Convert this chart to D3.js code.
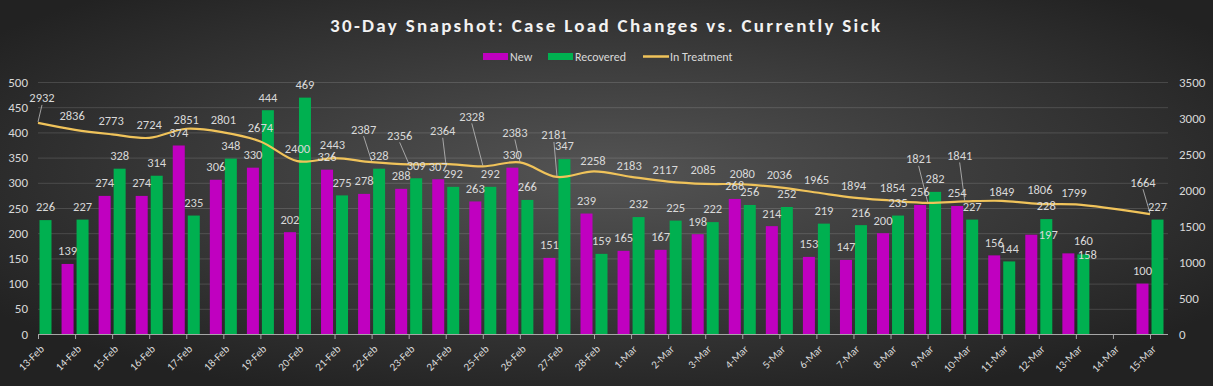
<!DOCTYPE html>
<html>
<head>
<meta charset="utf-8">
<script src="https://cdn.jsdelivr.net/npm/d3@7"></script>
<style>
  html, body { margin: 0; padding: 0; background: #2a2a2a; }
  svg { display: block; }
  text { font-family: Carlito, "Liberation Sans Narrow", "DejaVu Sans Condensed", "Liberation Sans", sans-serif; }
</style>
</head>
<body>
<svg id="chart" width="1213" height="386"></svg>
<script>
// ---------------- data ----------------
const categories = ["13-Feb","14-Feb","15-Feb","16-Feb","17-Feb","18-Feb","19-Feb","20-Feb","21-Feb","22-Feb","23-Feb","24-Feb","25-Feb","26-Feb","27-Feb","28-Feb",
  "1-Mar","2-Mar","3-Mar","4-Mar","5-Mar","6-Mar","7-Mar","8-Mar","9-Mar","10-Mar","11-Mar","12-Mar","13-Mar","14-Mar","15-Mar"];
const newCases = [null,139,274,274,374,306,330,202,326,278,288,307,263,330,151,239,
  165,167,198,268,214,153,147,200,256,254,156,197,160,null,100];
const recovered = [226,227,328,314,235,348,444,469,275,328,309,292,292,266,347,159,
  232,225,222,256,252,219,216,235,282,227,144,228,158,null,227];
const inTreatment = [2932,2836,2773,2724,2851,2801,2674,2400,2443,2387,2356,2364,2328,2383,2181,2258,
  2183,2117,2085,2080,2036,1965,1894,1854,1821,1841,1849,1806,1799,null,1664];
const leftTicks = [0,50,100,150,200,250,300,350,400,450,500];
const rightTicks = [0,500,1000,1500,2000,2500,3000,3500];
const seriesNames = ["New","Recovered","In Treatment"];

// ---------------- layout (label placement, px) ----------------
const lineLabelShift = [[4,-25],[-3,-14],[-1,-14],[0,-13],[0,-9],[0,-13],[0,-14],[0,-13],[-2,-13],[-8,-33],[-9,-29],[-3,-33],[-11,-50],[-5,-30],[-3,-42],[-1,-11],
  [-2,-11],[-3,-12],[-2,-14],[0,-11],[0,-13],[0,-13],[0,-12],[2,-13],[-9,-44],[-5,-46],[0,-9],[1,-14],[-2,-12],null,[-7,-32]];
const barLabelShift = { "new-27":[17,0], "new-28":[15,-13], "rec-28":[4,0] };

const W = 1213, H = 386;
const plot = { left: 38, right: 1168, top: 82, bottom: 334 };
const colors = { new: "#c000c0", rec: "#00b050", line: "#f0c35a", text: "#d9d9d9" };
const labelSize = 12.5;

const svg = d3.select("#chart");
const defs = svg.append("defs");
const grad = defs.append("radialGradient").attr("id","bg")
  .attr("cx","50%").attr("cy","45%").attr("r","62%");
grad.append("stop").attr("offset","0%").attr("stop-color","#545454");
grad.append("stop").attr("offset","100%").attr("stop-color","#222222");
svg.append("rect").attr("width",W).attr("height",H).attr("fill","url(#bg)");

const x = d3.scalePoint().domain(categories).range([plot.left, 1150]);
const sub = d3.scaleBand().domain(["new","rec"]).range([-13.5,13.5]).paddingInner(0.2);
const yL = d3.scaleLinear().domain([0,500]).range([plot.bottom, plot.top]);
const yR = d3.scaleLinear().domain([0,3500]).range([plot.bottom, plot.top]);

// gridlines
svg.append("g").selectAll("line").data(leftTicks.slice(1)).join("line")
  .attr("x1",plot.left).attr("x2",plot.right)
  .attr("y1",d=>yL(d)+0.5).attr("y2",d=>yL(d)+0.5)
  .attr("stroke","#ffffff").attr("stroke-opacity",0.14).attr("stroke-width",1);

// left axis labels
const axL = d3.axisLeft(yL).tickValues(leftTicks).tickSize(0).tickPadding(0).tickFormat(d3.format("d"));
const gL = svg.append("g").attr("transform",`translate(${plot.left-10},0)`).call(axL);
gL.select(".domain").remove();
gL.selectAll("text").attr("fill",colors.text).attr("font-size",13);

// right axis labels
const axR = d3.axisRight(yR).tickValues(rightTicks).tickSize(0).tickPadding(0).tickFormat(d3.format("d"));
const gR = svg.append("g").attr("transform",`translate(1179,0)`).call(axR);
gR.select(".domain").remove();
gR.selectAll("text").attr("fill",colors.text).attr("font-size",13);

// bars
const barData = [];
categories.forEach((c,i)=>{
  if (newCases[i] != null) barData.push({key:"new", i, c, v:newCases[i]});
  if (recovered[i] != null) barData.push({key:"rec", i, c, v:recovered[i]});
});
svg.append("g").selectAll("rect").data(barData).join("rect")
  .attr("x",d=>x(d.c)+sub(d.key))
  .attr("width",sub.bandwidth())
  .attr("y",d=>yL(d.v))
  .attr("height",d=>yL(0)-yL(d.v))
  .attr("fill",d=>colors[d.key]);

// bottom axis
const axB = d3.axisBottom(x).tickSize(5).tickFormat("");
const gB = svg.append("g").attr("transform",`translate(0,${plot.bottom})`).call(axB);
gB.select(".domain").attr("d",`M${plot.left},0.5H${plot.right}`).attr("stroke","#a6a6a6");
gB.selectAll(".tick line").attr("stroke","#a6a6a6");
svg.append("g").selectAll("text").data(categories).join("text")
  .attr("transform",d=>`translate(${x(d)+4},${plot.bottom+13}) rotate(-45)`)
  .attr("text-anchor","end").attr("dy","0.35em")
  .attr("fill",colors.text).attr("font-size",11).text(d=>d);

// line
const lineData = categories.map((c,i)=>({c,i,v:inTreatment[i]})).filter(d=>d.v!=null);
const line = d3.line().x(d=>x(d.c)).y(d=>yR(d.v)).curve(d3.curveCatmullRom.alpha(0.5));
svg.append("path").datum(lineData).attr("d",line)
  .attr("fill","none").attr("stroke",colors.line).attr("stroke-width",2.2);

// line labels + leader lines
const lab = svg.append("g");
lineData.forEach(d=>{
  const s = lineLabelShift[d.i];
  const px = x(d.c), py = yR(d.v);
  const lx = px + s[0], ly = py + s[1];
  if (s[1] < -20) {
    lab.append("line").attr("x1",lx).attr("y1",ly+7).attr("x2",px).attr("y2",py-1)
      .attr("stroke","#bfbfbf").attr("stroke-width",0.8);
  }
  lab.append("text").attr("x",lx).attr("y",ly).attr("dy","0.35em")
    .attr("text-anchor","middle").attr("fill",colors.text).attr("font-size",labelSize).text(d.v);
});

// bar labels
svg.append("g").selectAll("text").data(barData).join("text")
  .attr("x",d=>x(d.c)+sub(d.key)+sub.bandwidth()/2+((barLabelShift[d.key+"-"+d.i]||[0,-13])[0]))
  .attr("y",d=>yL(d.v)+((barLabelShift[d.key+"-"+d.i]||[0,-13])[1]))
  .attr("dy","0.35em").attr("text-anchor","middle")
  .attr("fill",colors.text).attr("font-size",labelSize).text(d=>d.v);

// title
svg.append("text").attr("x",605).attr("y",25).attr("dy","0.35em")
  .attr("text-anchor","middle").attr("fill","#f2f2f2").attr("font-size",19).attr("font-weight","bold")
  .attr("textLength",550).attr("lengthAdjust","spacing")
  .text("30-Day Snapshot: Case Load Changes vs. Currently Sick");

// legend
const leg = svg.append("g");
const legItems = [
  {name:seriesNames[0], x:483, type:"rect", color:colors.new},
  {name:seriesNames[1], x:548, type:"rect", color:colors.rec},
  {name:seriesNames[2], x:643, type:"line", color:colors.line}
];
legItems.forEach(it=>{
  if (it.type==="rect") leg.append("rect").attr("x",it.x).attr("y",53).attr("width",25).attr("height",7).attr("fill",it.color);
  else leg.append("line").attr("x1",it.x).attr("x2",it.x+26).attr("y1",56.5).attr("y2",56.5).attr("stroke",it.color).attr("stroke-width",2.5);
  leg.append("text").attr("x",it.x+27).attr("y",56.5).attr("dy","0.35em").attr("fill",colors.text)
    .attr("font-size",12).text(it.name);
});
</script>
</body>
</html>
